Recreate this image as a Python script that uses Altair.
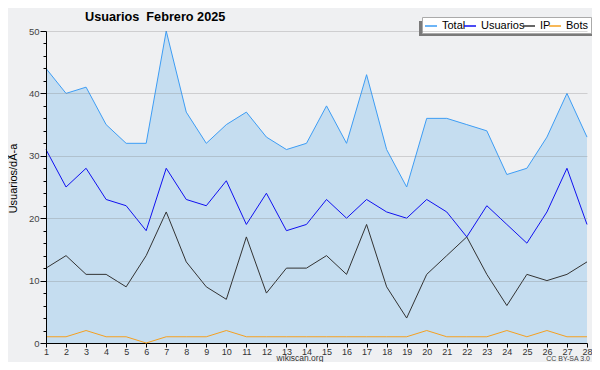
import altair as alt
import pandas as pd

days = list(range(1, 29))
total = [44, 40, 41, 35, 32, 32, 50, 37, 32, 35, 37, 33, 31, 32, 38, 32, 43, 31, 25, 36, 36, 35, 34, 27, 28, 33, 40, 33]
usuarios = [31, 25, 28, 23, 22, 18, 28, 23, 22, 26, 19, 24, 18, 19, 23, 20, 23, 21, 20, 23, 21, 17, 22, 19, 16, 21, 28, 19]
ip = [12, 14, 11, 11, 9, 14, 21, 13, 9, 7, 17, 8, 12, 12, 14, 11, 19, 9, 4, 11, 14, 17, 11, 6, 11, 10, 11, 13]
bots = [1, 1, 2, 1, 1, 0, 1, 1, 1, 2, 1, 1, 1, 1, 1, 1, 1, 1, 1, 2, 1, 1, 1, 2, 1, 2, 1, 1]
series_names = ["Total", "Usuarios", "IP", "Bots"]
series_colors = ["#3d9df5", "#1010f0", "#333333", "#f5a020"]
y_ticks = list(range(0, 51, 2))

rows = []
for name, vals in zip(series_names, [total, usuarios, ip, bots]):
    for d, v in zip(days, vals):
        rows.append({"day": d, "serie": name, "valor": v})
df = pd.DataFrame(rows)
df_total = pd.DataFrame({"day": days, "valor": total})

FONT = "Liberation Sans"

x_enc = alt.X(
    "day:Q",
    scale=alt.Scale(domain=[1, 28], nice=False, zero=False),
    axis=alt.Axis(
        values=days, title=None,
        labelFont=FONT, labelFontSize=9, labelColor="#333333", labelPadding=0,
        tickSize=4, tickColor="#000000", domainColor="#000000", grid=False,
        labelFlush=False,
    ),
)
y_enc = alt.Y(
    "valor:Q",
    scale=alt.Scale(domain=[0, 50], nice=False),
    axis=alt.Axis(
        values=y_ticks, title="Usuarios/dÃ-a", titleFont=FONT, titleFontSize=11,
        titleFontWeight="normal", titleColor="#000000",
        titleX=-28, titleY=147, titleBaseline="bottom", titleAlign="center",
        labelExpr="datum.value % 10 == 0 ? datum.label : ''",
        labelFont=FONT, labelFontSize=9.5, labelColor="#444444", labelPadding=1,
        tickColor="#000000", domainColor="#000000",
        tickSize={"condition": {"test": "datum.value % 10 == 0", "value": 6}, "value": 3},
        gridOpacity={"condition": {"test": "datum.value % 10 == 0 && datum.value > 0", "value": 0.3}, "value": 0},
        gridColor="#808080", zindex=1,
    ),
)

area = alt.Chart(df_total).mark_area(color="#c5ddf0", opacity=1).encode(x=x_enc, y=y_enc)

lines = alt.Chart(df).mark_line(strokeWidth=1).encode(
    x=x_enc,
    y=y_enc,
    color=alt.Color(
        "serie:N",
        scale=alt.Scale(domain=series_names, range=series_colors),
        sort=series_names,
        legend=alt.Legend(
            title=None, orient="none", direction="horizontal",
            legendX=376, legendY=-14, symbolType="stroke", symbolSize=144,
            symbolStrokeWidth=1.5, labelFont=FONT, labelFontSize=11,
            labelColor="#000000", columnPadding=-5, labelOffset=4,
            gridAlign="none", padding=2, fillColor="#ffffff", strokeColor="#aaaaaa",
        ),
    ),
)

shadow = alt.Chart(pd.DataFrame({"a": [0]})).mark_rect(color="#7a7a7a").encode(
    x=alt.value(373), x2=alt.value(547), y=alt.value(-10), y2=alt.value(5)
)

title_txt = alt.Chart(pd.DataFrame({"t": ["Usuarios\u00a0 Febrero 2025"]})).mark_text(
    font=FONT, fontSize=12.7, fontWeight="bold", color="#000000", align="left", baseline="middle"
).encode(text="t:N", x=alt.value(39), y=alt.value(-14))

site = alt.Chart(pd.DataFrame({"t": ["wikiscan.org"]})).mark_text(
    font=FONT, fontSize=8.5, color="#333333", align="center", baseline="alphabetic"
).encode(text="t:N", x=alt.value(254), y=alt.value(330))

cc = alt.Chart(pd.DataFrame({"t": ["CC BY-SA 3.0"]})).mark_text(
    font=FONT, fontSize=7, color="#444444", align="right", baseline="alphabetic"
).encode(text="t:N", x=alt.value(544), y=alt.value(330))

chart = alt.layer(area, lines, shadow, title_txt, site, cc).properties(
    width=541, height=312,
    autosize=alt.AutoSizeParams(type="none"),
    padding={"left": 38, "top": 23, "right": 5, "bottom": 19},
    background="#eff0f2",
).configure_view(stroke=None).configure_legend(strokeWidth=1, cornerRadius=0)

chart.save("out.html", embed_options={"renderer": "svg", "actions": False})
